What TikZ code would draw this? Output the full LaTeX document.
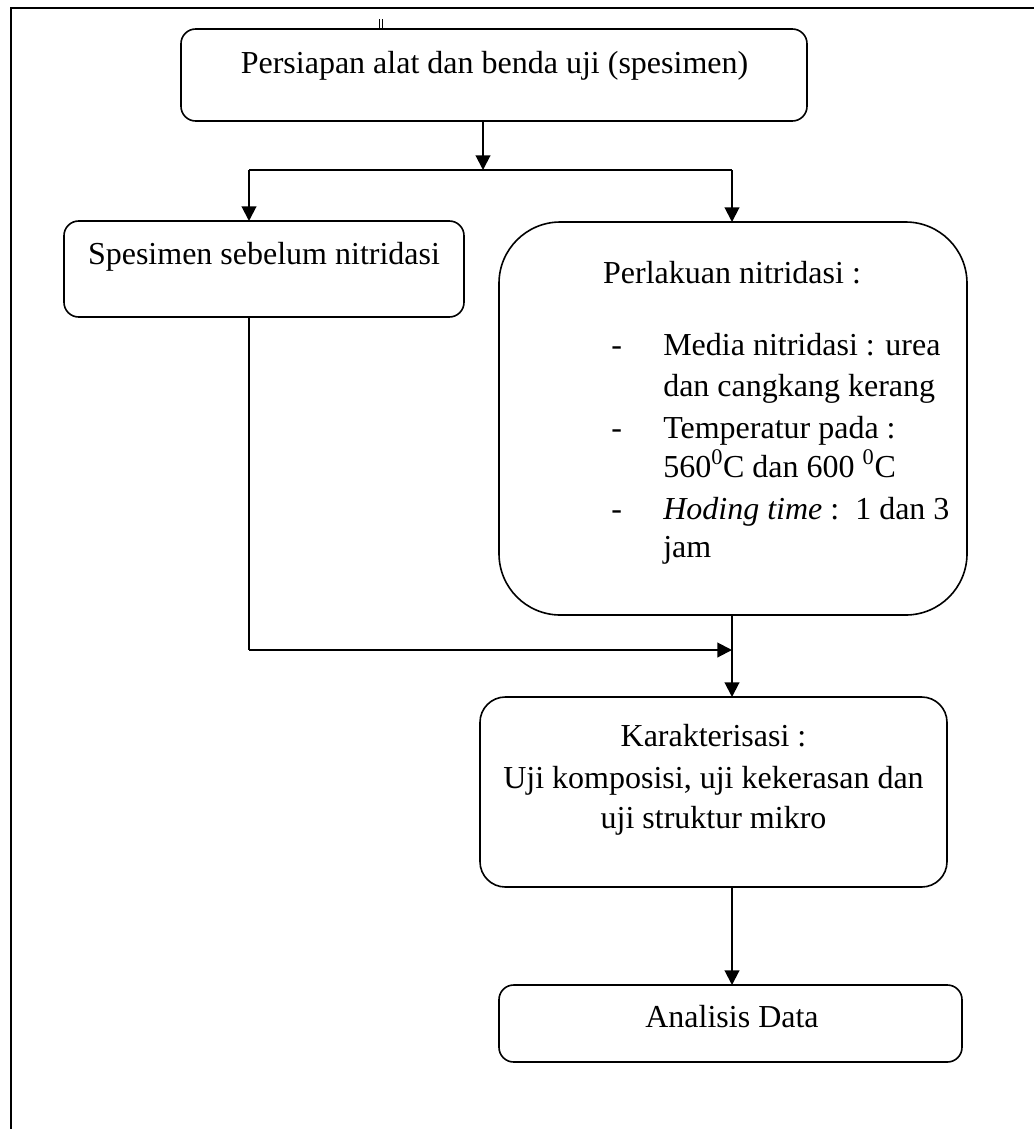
\documentclass[tikz,border=0pt]{standalone}
\usepackage{fontspec}
\setmainfont{Liberation Serif}
\usetikzlibrary{arrows.meta}
\begin{document}
\begin{tikzpicture}[x=0.75pt,y=-0.75pt,
  box/.style={draw, line width=1.2pt, inner sep=0pt, outer sep=0pt},
  txt/.style={inner sep=0pt, font=\fontsize{24}{31}\selectfont},
  conn/.style={line width=1.5pt},
  arr/.style={line width=1.5pt, -{Triangle[length=11pt,width=11pt]}},
  frame/.style={line width=2pt}]
\useasboundingbox (0,0) rectangle (1034,1129);
% outer frame
\coordinate (fa) at (10,8);
\coordinate (fb) at (1034,8);
\coordinate (fc) at (11,1129);
\draw[frame] (fb) -- (fa -| fc) -- (fc);
\coordinate (m1) at (379,19);
\coordinate (m2) at (382,28);
\draw[line width=0.5pt] (m1) -- (m1 |- m2) (m2 |- m1) -- (m2);
% boxes
\node[box, rounded corners=11pt, minimum width={626*0.75pt}, minimum height={92*0.75pt}] (b1) at (494,75) {};
\node[txt, anchor=base] (t1) at (494.5,73) {Persiapan alat dan benda uji (spesimen)};
\node[box, rounded corners=11pt, minimum width={400*0.75pt}, minimum height={96*0.75pt}] (b2) at (264,269) {};
\node[txt, anchor=base] (t2) at (264,264) {Spesimen sebelum nitridasi};
\node[box, rounded corners=46pt, minimum width={468*0.75pt}, minimum height={393*0.75pt}] (b3) at (733,418.5) {};
\node[txt, anchor=base] (t3a) at (732,283) {Perlakuan nitridasi :};
\node[txt, anchor=base west] (d1) at (611,355) {-};
\node[txt, anchor=base west] (t3b) at (663,355) {Media nitridasi : urea};
\node[txt, anchor=base west] (t3c) at (663,396) {dan cangkang kerang};
\node[txt, anchor=base west] (d2) at (611,438) {-};
\node[txt, anchor=base west] (t3d) at (663,438) {Temperatur pada :};
\node[txt, anchor=base west] (t3e) at (663,477) {560\textsuperscript{0}C dan 600 \textsuperscript{0}C};
\node[txt, anchor=base west] (d3) at (611,519) {-};
\node[txt, anchor=base west] (t3f) at (663,519) {\textit{Hoding time} :\ \ 1 dan 3};
\node[txt, anchor=base west] (t3g) at (663,557) {jam};
\node[box, rounded corners=19pt, minimum width={467*0.75pt}, minimum height={190*0.75pt}] (b4) at (713.5,792) {};
\node[txt, anchor=base] (t4a) at (713.5,746) {Karakterisasi :};
\node[txt, anchor=base] (t4b) at (713.5,788) {Uji komposisi, uji kekerasan dan};
\node[txt, anchor=base] (t4c) at (713.5,828) {uji struktur mikro};
\node[box, rounded corners=11pt, minimum width={463*0.75pt}, minimum height={77*0.75pt}] (b5) at (730.5,1023.5) {};
\node[txt, anchor=base] (t5) at (732,1027) {Analisis Data};
% connectors
\coordinate (j1) at (483,170);
\coordinate (xl) at (249,170);
\coordinate (xr) at (732,170);
\coordinate (j2) at (249,650);
\draw[arr] (j1 |- b1.south) -- (j1);
\draw[conn] (xl) -- (xr);
\draw[arr] (xl) -- (xl |- b2.north);
\draw[arr] (xr) -- (xr |- b3.north);
\draw[conn] (xl |- b2.south) -- (j2);
\draw[arr] (j2) -- (xr |- j2);
\draw[arr] (xr |- b3.south) -- (xr |- b4.north);
\draw[arr] (xr |- b4.south) -- (xr |- b5.north);
\end{tikzpicture}
\end{document}
